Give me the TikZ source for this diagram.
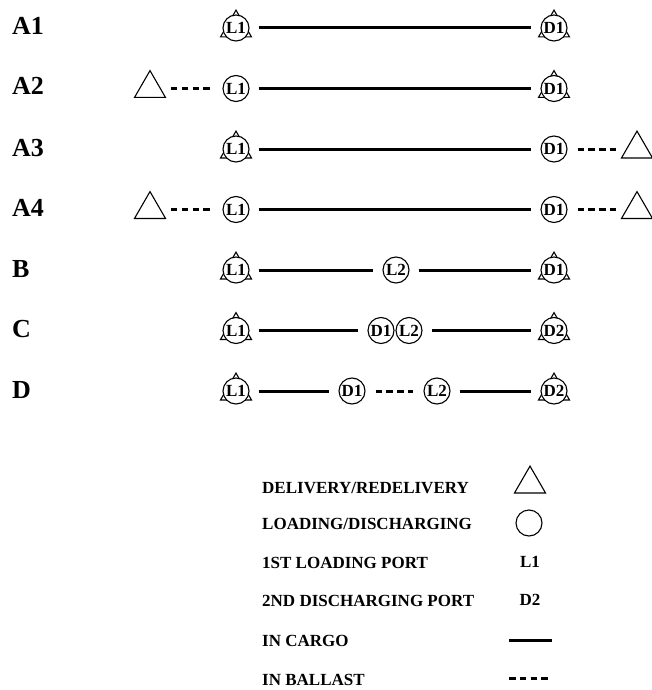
\documentclass[tikz,border=0pt]{standalone}
\usepackage{fontspec}
\setmainfont{Liberation Serif}
\usetikzlibrary{shapes.geometric}

\begin{document}
\begin{tikzpicture}[x=1pt,y=-1pt]
  \tikzstyle{port} = [circle, draw, fill=white, line width=1.1pt, minimum size=26pt, inner sep=0pt, font=\fontsize{17}{17}\selectfont\bfseries]
  \tikzstyle{deliv} = [regular polygon, regular polygon sides=3, draw, line width=1.1pt, minimum size=35.8pt, inner sep=0pt]
  \tikzstyle{rowname} = [anchor=base west, inner sep=0pt, font=\fontsize{26}{26}\selectfont\bfseries]
  \tikzstyle{key} = [anchor=base west, inner sep=0pt, font=\fontsize{17}{17}\selectfont\bfseries]
  \tikzstyle{cargo} = [line width=3pt, shorten <=9pt, shorten >=9pt]
  \tikzstyle{ballast} = [line width=3pt, dash pattern=on 6.5pt off 4.3pt, shorten <=10pt, shorten >=10pt]

  \useasboundingbox (0,0) rectangle (652,690);

  \node[rowname] (ra1) at (12,35) {A1};
  \node[rowname] (ra2) at (12,95) {A2};
  \node[rowname] (ra3) at (12,156) {A3};
  \node[rowname] (ra4) at (12,216) {A4};
  \node[rowname] (rb) at (12,277) {B};
  \node[rowname] (rc) at (12,337) {C};
  \node[rowname] (rd) at (12,398) {D};

  % A1
  \node[deliv] (a1t1) at (236,28) {};
  \node[port] (a1l1) at (236,28) {L1};
  \node[deliv] (a1t2) at (554,28) {};
  \node[port] (a1d1) at (554,28) {D1};

  % A2
  \node[deliv] (a2t1) at (150,88.5) {};
  \node[port] (a2l1) at (236,88.5) {L1};
  \node[deliv] (a2t2) at (554,88.5) {};
  \node[port] (a2d1) at (554,88.5) {D1};

  % A3
  \node[deliv] (a3t1) at (236,149) {};
  \node[port] (a3l1) at (236,149) {L1};
  \node[port] (a3d1) at (554,149) {D1};
  \node[deliv] (a3t2) at (637,149) {};

  % A4
  \node[deliv] (a4t1) at (150,209.5) {};
  \node[port] (a4l1) at (236,209.5) {L1};
  \node[port] (a4d1) at (554,209.5) {D1};
  \node[deliv] (a4t2) at (637,209.5) {};

  % B
  \node[deliv] (bt1) at (236,270) {};
  \node[port] (bl1) at (236,270) {L1};
  \node[port] (bl2) at (396,270) {L2};
  \node[deliv] (bt2) at (554,270) {};
  \node[port] (bd1) at (554,270) {D1};

  % C
  \node[deliv] (ct1) at (236,330.5) {};
  \node[port] (cl1) at (236,330.5) {L1};
  \node[port] (cd1) at (381,330.5) {D1};
  \node[port] (cl2) at (409,330.5) {L2};
  \node[deliv] (ct2) at (554,330.5) {};
  \node[port] (cd2) at (554,330.5) {D2};

  % D
  \node[deliv] (dt1) at (236,391) {};
  \node[port] (dl1) at (236,391) {L1};
  \node[port] (dd1) at (352,391) {D1};
  \node[port] (dl2) at (437,391) {L2};
  \node[deliv] (dt2) at (554,391) {};
  \node[port] (dd2) at (554,391) {D2};

  \draw[cargo] (a1l1) -- (a1d1);

  \draw[ballast] (a2t1) -- (a2l1);
  \draw[cargo] (a2l1) -- (a2d1);

  \draw[cargo] (a3l1) -- (a3d1);
  \draw[ballast] (a3d1) -- (a3t2);

  \draw[ballast] (a4t1) -- (a4l1);
  \draw[cargo] (a4l1) -- (a4d1);
  \draw[ballast] (a4d1) -- (a4t2);

  \draw[cargo] (bl1) -- (bl2);
  \draw[cargo] (bl2) -- (bd1);

  \draw[cargo] (cl1) -- (cd1);
  \draw[cargo] (cl2) -- (cd2);

  \draw[cargo] (dl1) -- (dd1);
  \draw[ballast] (dd1) -- (dl2);
  \draw[cargo] (dl2) -- (dd2);

  % key
  \node[key] (k1) at (262,493) {DELIVERY/REDELIVERY};
  \node[key] (k2) at (262,529) {LOADING/DISCHARGING};
  \node[key] (k3) at (262,568) {1ST LOADING PORT};
  \node[key] (k4) at (262,606) {2ND DISCHARGING PORT};
  \node[key] (k5) at (262,646) {IN CARGO};
  \node[key] (k6) at (262,685) {IN BALLAST};

  \node[deliv] (ktri) at (530,484) {};
  \node[port] (kcirc) at (529,523) {};
  \node[font=\fontsize{17}{17}\selectfont\bfseries] (kl1) at (530,562) {L1};
  \node[font=\fontsize{17}{17}\selectfont\bfseries] (kd2) at (530,600) {D2};
  \coordinate (cargoa) at (509,640);
  \coordinate (cargob) at (552,640);
  \coordinate (ballasta) at (509,678);
  \coordinate (ballastb) at (548,678);
  \draw[line width=3pt] (cargoa) -- (cargob);
  \draw[line width=3pt, dash pattern=on 6.5pt off 4.3pt] (ballasta) -- (ballastb);
\end{tikzpicture}
\end{document}
